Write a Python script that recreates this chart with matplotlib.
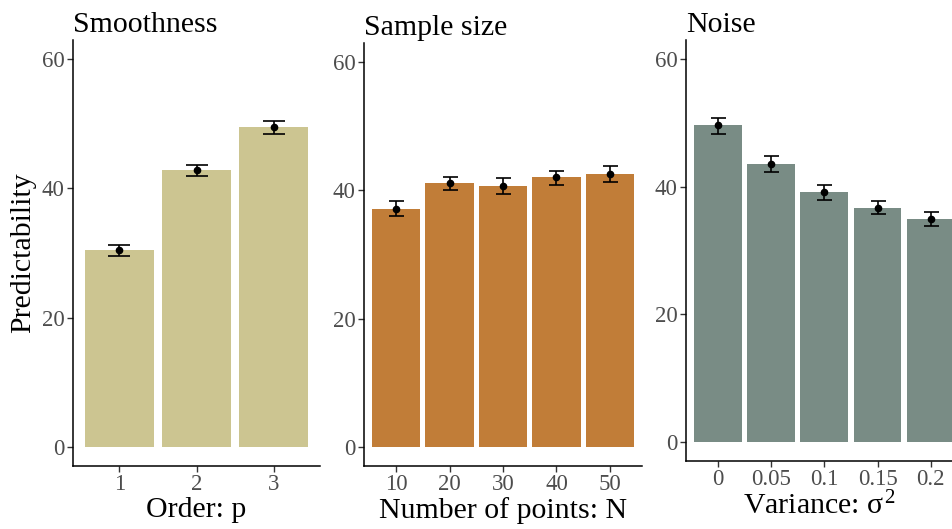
import matplotlib
matplotlib.use("Agg")
import matplotlib.pyplot as plt
import numpy as np

plt.rcParams['font.family'] = ['Liberation Serif', 'DejaVu Serif']
plt.rcParams['mathtext.fontset'] = 'custom'
plt.rcParams['mathtext.rm'] = 'Liberation Serif'
plt.rcParams['mathtext.it'] = 'Liberation Serif'

# ---- data ----
smooth_labels = ["1", "2", "3"]
smooth_mean = [30.4, 42.8, 49.5]
smooth_lo = [29.6, 42.0, 48.5]
smooth_hi = [31.2, 43.7, 50.4]

sample_labels = ["10", "20", "30", "40", "50"]
sample_mean = [37.1, 41.1, 40.7, 42.1, 42.5]
sample_lo = [36.0, 40.1, 39.5, 40.9, 41.3]
sample_hi = [38.3, 42.1, 41.9, 43.1, 43.8]

noise_labels = ["0", "0.05", "0.1", "0.15", "0.2"]
noise_mean = [49.7, 43.5, 39.1, 36.7, 35.0]
noise_lo = [48.3, 42.3, 37.9, 35.7, 33.9]
noise_hi = [50.8, 44.8, 40.2, 37.7, 36.1]

yticks = [0, 20, 40, 60]

W, H = 952, 529
fig = plt.figure(figsize=(W / 100, H / 100), dpi=100)

def px_axes(l, r, t, b):
    return fig.add_axes([l / W, 1 - b / H, (r - l) / W, (b - t) / H])

panels = [
    dict(rect=(73, 320, 40, 466), labels=smooth_labels, mean=smooth_mean, lo=smooth_lo, hi=smooth_hi,
         color="#CCC591", title="Smoothness", xlabel="Order: p", xr=3.6, cap=7.9),
    dict(rect=(364, 642, 43, 466), labels=sample_labels, mean=sample_mean, lo=sample_lo, hi=sample_hi,
         color="#C17D38", title="Sample size", xlabel="Number of points: N", xr=5.6, cap=5.4),
    dict(rect=(686, 952, 40, 461), labels=noise_labels, mean=noise_mean, lo=noise_lo, hi=noise_hi,
         color="#798C85", title="Noise", xlabel=r"Variance: $\sigma^2$", xr=5.4, cap=5.4),
]

for p in panels:
    ax = px_axes(*p["rect"])
    x = np.arange(1, len(p["labels"]) + 1)
    mean = np.array(p["mean"])
    ax.bar(x, mean, width=0.9, color=p["color"], zorder=1)
    yerr = [mean - np.array(p["lo"]), np.array(p["hi"]) - mean]
    ax.errorbar(x, mean, yerr=yerr, fmt='o', color='black', markersize=4.5,
                capsize=p["cap"], elinewidth=1.2, capthick=1.2, zorder=3)
    ax.set_xlim(0.4, p["xr"])
    ax.set_ylim(-3, 63)
    ax.set_xticks(x)
    ax.set_xticklabels(p["labels"])
    ax.set_yticks(yticks)
    for s in ["top", "right"]:
        ax.spines[s].set_visible(False)
    for s in ["left", "bottom"]:
        ax.spines[s].set_linewidth(1.1)
        ax.spines[s].set_color("black")
    ax.tick_params(axis='both', labelsize=16.5, labelcolor="#4D4D4D", color="#333333",
                   length=4, width=1)
    ax.tick_params(axis='x', pad=2)
    ax.tick_params(axis='y', pad=2)
    ax.set_title(p["title"], loc='left', fontsize=21.5, pad=6)
    ax.set_xlabel(p["xlabel"], fontsize=21.5, labelpad=1)

fig.text(23 / W, 1 - 253 / H, "Predictability", rotation=90, fontsize=21.5,
         ha='center', va='center')

fig.savefig("out.png", dpi=100)
